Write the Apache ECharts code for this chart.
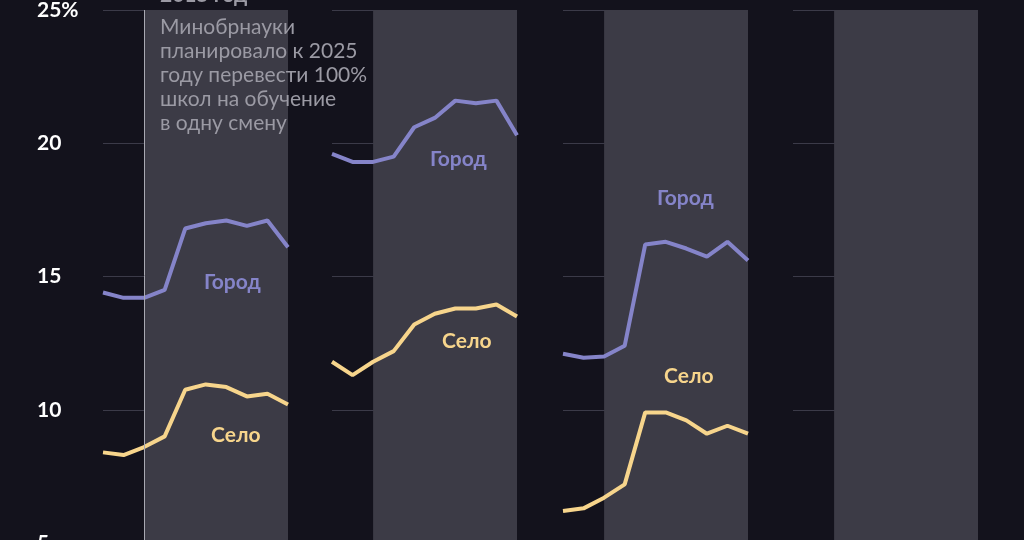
<!DOCTYPE html>
<html><head><meta charset="utf-8">
<script src="https://cdn.jsdelivr.net/npm/echarts@6/dist/echarts.min.js"></script>
<style>html,body{margin:0;padding:0;background:#13121c}#c{width:1024px;height:540px}</style>
</head><body><div id="c"></div>
<script>
const years = ['2013','2014','2015','2016','2017','2018','2019','2020','2021','2022'];
const yTicks = [5,10,15,20,25];
const city1 = [14.4,14.2,14.2,14.5,16.8,17.0,17.1,16.9,17.1,16.1];
const village1 = [8.4,8.3,8.6,9.0,10.75,10.95,10.85,10.5,10.6,10.2];
const city2 = [19.6,19.3,19.3,19.5,20.6,20.95,21.6,21.5,21.6,20.3];
const village2 = [11.8,11.3,11.8,12.2,13.2,13.6,13.8,13.8,13.95,13.5];
const city3 = [12.1,11.95,12.0,12.4,16.2,16.3,16.05,15.75,16.3,15.6];
const village3 = [6.2,6.3,6.7,7.2,9.9,9.9,9.6,9.1,9.4,9.1];
const panels = [[city1,village1],[city2,village2],[city3,village3],[null,null]];
const CITY='#8584c9', VIL='#f7d58c';
const lefts=[103,332,563,793];
const grids=[],xAxes=[],yAxes=[],series=[];
panels.forEach((p,i)=>{
  grids.push({left:lefts[i],top:10,width:185,height:533,outerBoundsMode:'none',containLabel:false});
  xAxes.push({gridIndex:i,type:'category',data:years,boundaryGap:false,show:false});
  yAxes.push({gridIndex:i,type:'value',min:5,max:25,interval:5,
    axisLine:{show:false},axisTick:{show:false},
    splitLine:{lineStyle:{color:'#3b3a48',width:1}},
    axisLabel:{show:i===0,align:'left',margin:66,color:'#fff',fontSize:21,fontWeight:'bold',fontFamily:'Lato',
      formatter:v=>v===25?'25%':String(v)}});
  const ma={silent:true,itemStyle:{color:'#3c3b46'},data:[[{xAxis:'2015'},{xAxis:'2022'}]]};
  series.push({type:'line',xAxisIndex:i,yAxisIndex:i,data:p[0]||[],symbol:'none',z:3,
    lineStyle:{color:CITY,width:4},markArea:ma,
    markLine:i===0?{silent:true,symbol:'none',label:{show:false},lineStyle:{color:'#a9a9b2',width:1,type:'solid'},data:[{xAxis:'2015'}]}:undefined});
  if(p[1]) series.push({type:'line',xAxisIndex:i,yAxisIndex:i,data:p[1],symbol:'none',z:3,lineStyle:{color:VIL,width:4}});
});
const lbl=(x,y,t,c)=>({type:'text',left:x,top:y,z:10,style:{text:t,fill:c,font:'bold 21px Lato'}});
const chart=echarts.init(document.getElementById('c'));
chart.setOption({backgroundColor:'#13121c',animation:false,grid:grids,xAxis:xAxes,yAxis:yAxes,series,
  graphic:[
    lbl(204,272,'Город',CITY),lbl(430,149,'Город',CITY),lbl(657,188,'Город',CITY),
    lbl(211,425,'Село',VIL),lbl(442,331,'Село',VIL),lbl(664,366,'Село',VIL),
    {type:'text',left:160,top:-15,z:10,style:{text:'2015 год',fill:'#9b9aa4',font:'bold 21px Lato'}},
    {type:'text',left:160,top:15,z:10,style:{text:'Минобрнауки\nпланировало к 2025\nгоду перевести 100%\nшкол на обучение\nв одну смену',fill:'#9b9aa4',font:'21px Lato',lineHeight:24}}
  ]});
</script></body></html>
